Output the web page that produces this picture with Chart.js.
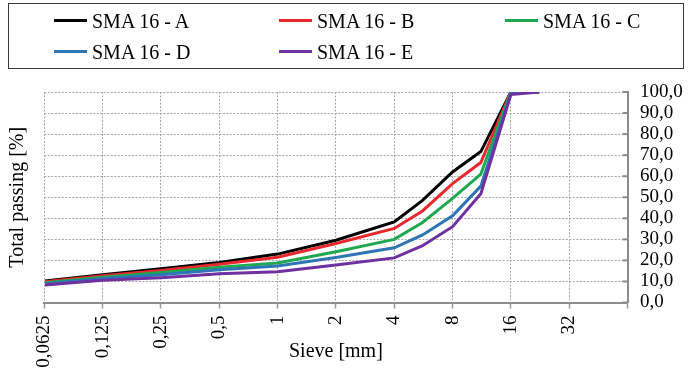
<!DOCTYPE html>
<html lang="en">
<head>
  <meta charset="UTF-8">
  <title>Grading curves SMA 16</title>
  <style>
    body {
      margin: 0;
      padding: 0;
      background-color: #fff;
      font-family: 'Liberation Serif', 'Times New Roman', serif;
    }
    .wrap {
      position: relative;
      width: 688px;
      height: 375px;
    }
    #gradingChart {
      position: absolute;
      left: 0;
      top: 0;
    }
    .legend-box {
      position: absolute;
      left: 8px;
      top: 3px;
      width: 674px;
      height: 64px;
      border: 1.5px solid #3a3a3a;
    }
    .legend-item {
      position: absolute;
      height: 24px;
      line-height: 24px;
      font-size: 20px;
      color: #000;
      white-space: nowrap;
    }
    .legend-item .swatch {
      position: absolute;
      left: 0;
      top: 10.5px;
      width: 33px;
      height: 3px;
    }
    .legend-item .label {
      position: absolute;
      left: 38px;
      top: 0;
    }
  </style>
</head>
<body>

  <div class="wrap">
    <canvas id="gradingChart" width="688" height="375"></canvas>
    <div class="legend-box"></div>
    <div id="legend"></div>
  </div>

  <script src="https://cdn.jsdelivr.net/npm/chart.js"></script>
  <script>
    // sieve sizes [mm]
    const sieves = [0.063, 0.125, 0.25, 0.5, 1, 2, 4, 5.6, 8, 11.2, 16, 22.4];

    // total passing [%] per mix
    const passA = [10.2, 13.2, 16.0, 19.0, 23.0, 29.6, 38.3, 48.5, 62.0, 71.7, 100, 100];
    const passB = [9.9, 12.7, 15.2, 18.2, 21.5, 28.0, 35.2, 43.5, 56.5, 66.5, 100, 100];
    const passC = [9.4, 12.0, 14.2, 16.8, 18.8, 24.1, 30.0, 38.0, 49.5, 61.0, 100, 100];
    const passD = [8.9, 11.4, 13.2, 15.6, 17.3, 21.4, 26.0, 32.1, 41.2, 55.3, 99.5, 100];
    const passE = [8.3, 10.6, 11.8, 13.6, 14.6, 17.8, 21.2, 27.0, 36.0, 51.7, 98.8, 100];

    const seriesNames = ['SMA 16 - A', 'SMA 16 - B', 'SMA 16 - C', 'SMA 16 - D', 'SMA 16 - E'];
    const seriesColors = ['#000000', '#e8282c', '#1fa84f', '#2e75b6', '#7030a0'];
    const seriesValues = [passA, passB, passC, passD, passE];

    // x axis ticks (log 2), last one has no label
    const xTickValues = [0.0625, 0.125, 0.25, 0.5, 1, 2, 4, 8, 16, 32, 64];
    // y axis ticks
    const yTickValues = [0, 10, 20, 30, 40, 50, 60, 70, 80, 90, 100];

    const serif = "'Liberation Serif', 'Times New Roman', serif";

    // legend in 3 columns
    const legendCols = [54, 279, 505];
    const legendRows = [20.7, 51.7];
    const legendEl = document.getElementById('legend');
    seriesNames.forEach((name, i) => {
      const item = document.createElement('div');
      item.className = 'legend-item';
      item.style.left = legendCols[i % 3] + 'px';
      item.style.top = (legendRows[Math.floor(i / 3)] - 12) + 'px';
      item.innerHTML = '<div class="swatch" style="background:' + seriesColors[i] + '"></div>' +
                       '<span class="label">' + name + '</span>';
      legendEl.appendChild(item);
    });

    // small inward tick marks on the right axis
    const inwardTicks = {
      id: 'inwardTicks',
      beforeDatasetsDraw(chart) {
        const yScale = chart.scales.y;
        const ctx = chart.ctx;
        const right = chart.chartArea.right;
        ctx.save();
        ctx.strokeStyle = '#8c8c8c';
        ctx.lineWidth = 2;
        yScale.ticks.forEach(t => {
          const py = yScale.getPixelForValue(t.value);
          ctx.beginPath();
          ctx.moveTo(right - 5, py);
          ctx.lineTo(right, py);
          ctx.stroke();
        });
        ctx.restore();
      }
    };

    const datasets = seriesValues.map((vals, i) => ({
      label: seriesNames[i],
      data: sieves.map((s, j) => ({ x: s, y: vals[j] })),
      borderColor: seriesColors[i],
      backgroundColor: seriesColors[i],
      borderWidth: 3,
      pointRadius: 0,
      tension: 0,
      fill: false,
      order: seriesValues.length - 1 - i
    }));

    const ctx = document.getElementById('gradingChart').getContext('2d');
    new Chart(ctx, {
      type: 'line',
      data: { datasets: datasets },
      options: {
        responsive: false,
        animation: false,
        layout: { padding: { top: 92, left: 0, right: 0, bottom: 0 } },
        plugins: {
          legend: { display: false },
          tooltip: { enabled: false }
        },
        scales: {
          x: {
            type: 'logarithmic',
            min: 0.0625,
            max: 64,
            afterBuildTicks: s => { s.ticks = xTickValues.map(v => ({ value: v })); },
            afterFit: s => { s.height = 72.5; },
            grid: { color: '#a6a6a6', lineWidth: 1, tickLength: 6, tickColor: '#999', tickWidth: 1.5, tickBorderDash: [] },
            border: { display: true, color: '#8c8c8c', width: 2, dash: [2, 1.5] },
            ticks: {
              autoSkip: false,
              maxRotation: 90,
              minRotation: 90,
              padding: 7,
              color: '#000',
              font: { family: serif, size: 19 },
              callback: v => (v === 64 ? '' : String(v).replace('.', ','))
            },
            title: {
              display: true,
              text: 'Sieve [mm]',
              color: '#000',
              font: { family: serif, size: 20 },
              padding: { top: 0, bottom: 11 }
            }
          },
          y: {
            position: 'right',
            min: 0,
            max: 100,
            afterBuildTicks: s => { s.ticks = yTickValues.map(v => ({ value: v })); },
            afterFit: s => { s.width = 60.5; },
            grid: { color: '#a6a6a6', lineWidth: 1, drawTicks: false },
            border: { display: true, color: '#8c8c8c', width: 2, dash: [2, 1.5] },
            ticks: {
              autoSkip: false,
              padding: 12.5,
              color: '#000',
              font: { family: serif, size: 19 },
              callback: v => v.toFixed(1).replace('.', ',')
            }
          },
          yTitle: {
            position: 'left',
            min: 0,
            max: 100,
            afterFit: s => { s.width = 44.3; },
            grid: { display: false },
            border: { display: false },
            ticks: { display: false },
            title: {
              display: true,
              text: 'Total passing [%]',
              color: '#000',
              font: { family: serif, size: 20 },
              padding: { top: 5.5, bottom: 0 }
            }
          }
        }
      },
      plugins: [inwardTicks]
    });
  </script>

</body>
</html>
